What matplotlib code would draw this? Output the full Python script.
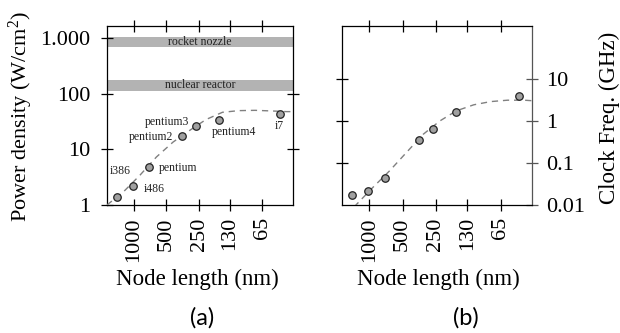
import matplotlib
matplotlib.use("Agg")
import matplotlib.pyplot as plt
import numpy as np

# ---- data ----
chips = ["i386", "i486", "pentium", "pentium2", "pentium3", "pentium4", "i7"]
node_nm = [1430, 1020, 725, 357, 266, 165, 45]
power_density = [1.41, 2.21, 4.83, 17.3, 26.5, 33.8, 42.7]
clock_ghz = [0.0170, 0.0215, 0.044, 0.358, 0.63, 1.64, 3.97]

# dashed trend curves (read along the drawn trend)
power_trend_nm = [1762, 1241, 876, 617, 434, 306, 216, 152, 107, 76, 53, 39, 34]
power_trend_val = [1.0, 1.73, 3.43, 7.3, 13.5, 21.8, 34.3, 46.4, 49.7, 50.3, 49.0, 47.7, 47.7]
clock_trend_nm = [1370, 933, 657, 463, 326, 230, 164, 114, 80.5, 56.6, 40, 33]
clock_trend_val = [0.009, 0.0258, 0.0645, 0.176, 0.48, 1.0, 1.73, 2.41, 2.87, 3.1, 3.1, 3.0]

bands = [("rocket nozzle", 680, 1040), ("nuclear reactor", 113, 178)]

node_ticks = [1000, 500, 250, 130, 65]
node_ticklabels = ["1000", "500", "250", "130", "65"]
power_ticks = [1, 10, 100, 1000]
power_ticklabels = ["1", "10", "100", "1.000"]
clock_ticks = [0.01, 0.1, 1, 10]
clock_ticklabels = ["0.01", "0.1", "1", "10"]

# label offsets (points) relative to each chip marker
label_offsets = [(2.2, 18.5), (15.5, -2.4), (21.4, -0.9), (-22.7, -0.9),
                 (-21.2, 3.1), (11, -8.4), (0, -8.1)]

SERIF = "Liberation Serif"
plt.rcParams["font.family"] = SERIF
plt.rcParams["mathtext.fontset"] = "custom"
plt.rcParams["mathtext.rm"] = SERIF
plt.rcParams["mathtext.it"] = SERIF + ":italic"

W, H = 620, 333
fig = plt.figure(figsize=(W / 100, H / 100), dpi=100)


def px_axes(x0, x1, y0, y1):
    return fig.add_axes([x0 / W, 1 - y1 / H, (x1 - x0) / W, (y1 - y0) / H])


TICK_LEN = 8.6
TICK_FS = 16
LABEL_FS = 16.5
DASH = dict(color="#808080", lw=1.0, dashes=(4.5, 3.5))
MARK = dict(ls="none", marker="o", ms=5.4, mfc="#a0a0a0", mec="#222222", mew=0.9)


def style_x(ax):
    ax.set_xscale("log")
    ax.set_xlim(1762, 34)
    ax.set_xticks(node_ticks)
    ax.set_xticklabels(node_ticklabels, rotation=90, fontsize=TICK_FS)
    ax.xaxis.set_minor_locator(matplotlib.ticker.NullLocator())
    ax.tick_params(axis="x", which="major", direction="inout", length=TICK_LEN,
                   width=0.9, top=True, bottom=True, labeltop=False, pad=4.5)
    for s in ax.spines.values():
        s.set_linewidth(0.9)


# ---- (a) power density ----
axa = px_axes(107, 293, 26, 205)
style_x(axa)
axa.set_yscale("log")
axa.set_ylim(1, 1650)
axa.set_yticks(power_ticks)
axa.set_yticklabels(power_ticklabels, fontsize=TICK_FS)
axa.yaxis.set_minor_locator(matplotlib.ticker.NullLocator())
axa.tick_params(axis="y", which="major", direction="inout", length=TICK_LEN,
                width=0.9, left=True, right=False, pad=7.5)

for name, lo, hi in bands:
    axa.axhspan(lo, hi, color="#b3b3b3", lw=0, zorder=1)
    axa.text(0.5, np.sqrt(lo * hi), name, transform=axa.get_yaxis_transform(),
             ha="center", va="center", fontsize=8.5, color="#222222", zorder=2)

axa.plot(power_trend_nm, power_trend_val, zorder=3, **DASH)
axa.plot(node_nm, power_density, zorder=4, **MARK)
for name, x, y, off in zip(chips, node_nm, power_density, label_offsets):
    axa.annotate(name, (x, y), xytext=off, textcoords="offset points",
                 ha="center", va="center", fontsize=8.5, color="#222222")

ident = (lambda v: v, lambda v: v)
sec_a = axa.secondary_yaxis("right", functions=ident)
sec_a.set_yticks([10, 100])
sec_a.set_yticklabels([])
sec_a.yaxis.set_minor_locator(matplotlib.ticker.NullLocator())
sec_a.tick_params(axis="y", which="major", direction="inout", length=TICK_LEN, width=0.9)
sec_a.spines["right"].set_visible(False)

# ---- (b) clock frequency ----
axb = px_axes(342, 532, 26, 205)
style_x(axb)
axb.set_yscale("log")
axb.set_ylim(0.01, 180)
axb.yaxis.tick_right()
axb.set_yticks(clock_ticks)
axb.set_yticklabels(clock_ticklabels, fontsize=TICK_FS)
axb.yaxis.set_minor_locator(matplotlib.ticker.NullLocator())
axb.tick_params(axis="y", which="major", direction="inout", length=TICK_LEN,
                width=0.9, right=True, left=False, pad=6, color="#555555")
axb.spines["right"].set_color("#555555")

axb.plot(clock_trend_nm, clock_trend_val, zorder=3, **DASH)
axb.plot(node_nm, clock_ghz, zorder=4, **MARK)

sec_b = axb.secondary_yaxis("left", functions=ident)
sec_b.set_yticks([0.1, 1, 10])
sec_b.set_yticklabels([])
sec_b.yaxis.set_minor_locator(matplotlib.ticker.NullLocator())
sec_b.tick_params(axis="y", which="major", direction="inout", length=TICK_LEN, width=0.9)
sec_b.spines["left"].set_visible(False)

# ---- axis titles and captions ----
fig.text(21 / W, 1 - 117 / H, "Power density (W/cm$^2$)", rotation=90,
         ha="center", va="center", fontsize=16)
fig.text(609 / W, 1 - 117.5 / H, "Clock Freq. (GHz)", rotation=90,
         ha="center", va="center", fontsize=LABEL_FS)
for xc in (197.5, 438):
    fig.text(xc / W, 1 - 285 / H, "Node length (nm)", ha="center",
             va="baseline", fontsize=LABEL_FS)
for xc, cap in ((202, "(a)"), (466, "(b)")):
    fig.text(xc / W, 1 - 318 / H, cap, ha="center", va="center",
             fontsize=17, family=["Lato", "DejaVu Sans"])

fig.savefig("out.png", dpi=100, facecolor="white")
